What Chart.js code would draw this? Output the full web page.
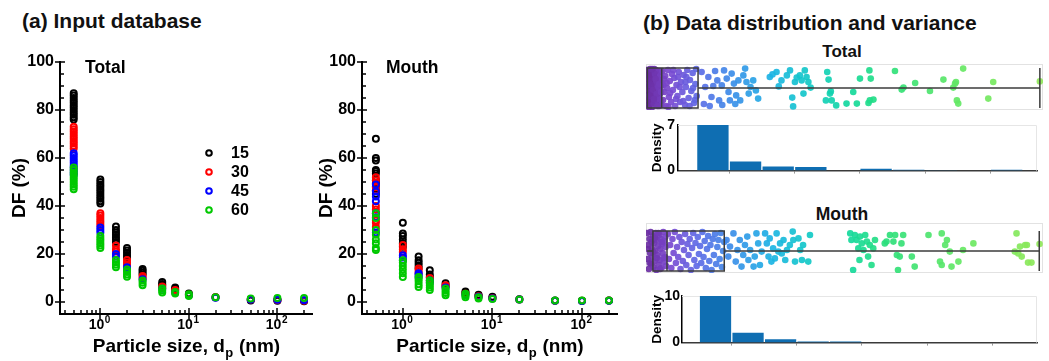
<!DOCTYPE html>
<html><head><meta charset="utf-8">
<script src="https://cdn.jsdelivr.net/npm/chart.js@4.4.1/dist/chart.umd.min.js"></script>
<style>
html,body{margin:0;padding:0;background:#fff;}
body{width:1049px;height:361px;position:relative;overflow:hidden;font-family:"Liberation Sans",Arial,Helvetica,sans-serif;}
canvas{position:absolute;}
.t{position:absolute;font-weight:bold;color:#111;white-space:nowrap;line-height:1;}
.ctr{transform:translateX(-50%);}
</style></head><body>
<div class="t" style="left:22px;top:10px;font-size:21px">(a) Input database</div>
<div class="t" style="left:643px;top:12px;font-size:21px">(b) Data distribution and variance</div>
<div class="t ctr" style="left:842px;top:43px;font-size:17px">Total</div>
<div class="t ctr" style="left:842px;top:206px;font-size:17.5px">Mouth</div>

<canvas id="cTotal" width="318" height="321" style="left:0;top:40px"></canvas>
<canvas id="cMouth" width="325" height="321" style="left:302px;top:40px"></canvas>
<canvas id="sTotal" width="409" height="56" style="left:640px;top:58px"></canvas>
<canvas id="hTotal" width="419" height="70" style="left:630px;top:112px"></canvas>
<canvas id="sMouth" width="409" height="60" style="left:640px;top:217px"></canvas>
<canvas id="hMouth" width="419" height="70" style="left:630px;top:283px"></canvas>

<script>
// ---------------- DATA ----------------
const sizes = [0.5, 1, 1.5, 2, 3, 5, 7, 10, 20, 50, 100, 200];   // particle size, nm
const seriesLabels = ['15', '30', '45', '60'];
const yTickValues = [0, 20, 40, 60, 80, 100];
const xDecades = [0, 1, 2];

// DF (%) values for each particle size — Total
const total15 = [[76,77,78,79,80,81,82,83,84,85,86,87],[41,42,43,44,45,46,47,48,49,50,51],[25,26,27,28,29,30,31.5],[18.5,19.5,20.5,21.5,22.5],[11.5,12.2,13,13.8],[7,7.5,8.3],[5,5.5,6],[3,3.5],[2],[0.6,1],[0.5,0.9],[0.3,0.6]];
const total30 = [[64,65,66,67,68,69,70,71,72,73],[32,33,34,35,36,37],[21,22,23.5],[15.5,16.5,17.5],[10,10.8],[6,6.5],[4.5,5],[3],[2],[1],[0.8],[0.5]];
const total45 = [[53,54,55,56,57,58,59,60,61,62],[29,30,31],[19,20],[13.5,14.5],[9.5],[5.5],[4],[2.8],[1.8],[1],[0.9],[0.7]];
const total60 = [[47,48,49,50,51,52,53,54,55,56],[22.5,23.5,24.5,25.5,26.5,27.5],[14.5,15.5,16.5,17.5],[10.5,11.5,12.5,13.5],[7,8,9],[4,4.8,5.6],[3.5,4.2],[2.5,3.2],[2],[1.5],[1.7],[1.7]];
// DF (%) values for each particle size — Mouth
const mouth15 = [[45,46.5,48,49.5,50.7,53.5,54.5,55,59,60,68],[23,24.5,26,27.5,28.5,33],[14.2,15.3,16.4,17.4,19],[10.4,11.5,13.2],[6.8,7.8],[3.8,4.4],[2.6,3],[1.8,2.2],[1.1],[0.6],[0.5],[0.6]];
const mouth30 = [[31.2,33,34,37,38.5,40,46.5,47.8,50.7,52],[20.8,22,23.7],[12,13,14],[9,10],[6.5,7],[3.4],[2.4],[1.6],[1],[0.5],[0.5],[0.6]];
const mouth45 = [[29,35.3,37,42,44,46,49],[17.4,18.5,19.5],[10.4,11.2,12],[8,9],[6],[3],[2.2],[1.5],[1],[0.5],[0.4],[0.5]];
const mouth60 = [[21.7,22.5,24.5,26,28,30,35,37],[10.4,12,13.5,15,16.5,17.4],[6.2,7.4,8.6,9.6,10.4],[5,6,7,8,9],[2.8,3.8,4.7,5.6],[2,2.7,3.4],[1.5,2],[1.3],[1],[0.6],[0.6],[0.6]];

// Strip plots: [DF value, jitter]
const totalStrip = [
[0.2,0.9],[0.3,-0.35],[0.4,0.45],[0.5,-0.85],[0.6,0.1],[0.7,0.7],[0.8,-0.55],[0.9,0.95],[1.0,-0.1],[1.1,0.5],[1.2,-0.7],[1.3,0.25],[1.4,-0.95],[1.5,0.8],[1.6,-0.35],[1.7,0.05],[1.8,0.6],[1.9,-0.6],[2.0,0.35],[2.1,-0.2],[2.2,0.9],[2.3,-0.8],[2.4,0.15],[2.5,0.55],[2.6,-0.45],[2.7,0.75],[2.8,-0.05],[2.9,-0.9],[3.0,0.4],[3.1,-0.3],[3.2,0.85],[3.3,-0.65],[3.4,0.1],
[0.25,0.2],[0.45,-0.15],[0.65,-0.95],[0.85,0.35],[1.05,0.8],[1.25,-0.35],[1.45,0.55],[1.65,-0.75],[1.85,0.95],[2.05,-0.45],[2.25,0.2],[2.45,-0.6],[2.65,0.45],[2.85,0.85],[3.05,-0.55],[3.25,0.3],[3.45,-0.85],[0.35,-0.65],[0.75,0.55],[1.15,0.15],[1.55,-0.1],[1.95,0.7],[2.35,-0.3],[2.75,0.05],[3.15,0.6],[0.55,0.65],[0.95,-0.4],[1.35,0.95],[1.75,-0.55],[2.15,0.45],[2.55,-0.9],[2.95,0.2],[3.35,-0.2],
[3.6,0.85],[3.8,-0.6],[3.9,0.15],[4.1,-0.2],[4.3,0.6],[4.5,-0.9],[4.7,0.0],[4.9,0.9],[5.1,-0.45],[5.3,0.35],[5.6,-0.7],[5.8,0.7],[6.0,-0.1],[6.3,0.5],[6.5,-0.9],[6.8,0.15],[7.0,-0.4],[7.3,0.8],[7.6,-0.7],[7.8,0.3],[8.1,-0.2],[8.4,0.65],[8.7,-0.85],[8.9,0.05],[9.2,0.9],[9.5,-0.5],[9.8,0.4],[10.1,-0.15],[10.4,0.75],[10.7,-0.75],[11.0,0.2],[11.3,-0.4],[4.0,0.45],[4.6,0.25],[5.4,-0.25],[6.1,0.9],[6.7,-0.55],[7.5,0.05],[8.3,-0.65],[9.0,0.55],[9.7,-0.9],[10.5,0.0],[11.2,0.95],[5.0,-0.95],[7.1,0.55],[8.8,0.3],[10.9,-0.6],
[12.4,0.8],[13.2,0.05],[13.9,0.55],[14.6,-0.45],[15.4,0.85],[15.9,0.38],[16.3,-0.62],[16.9,0.13],[17.4,0.88],[18.0,0.47],[18.4,-0.2],[18.7,-0.62],[19.1,0.72],[19.6,0.22],[20.1,-0.37],[20.6,0.38],[21.0,-0.62],[21.7,0.63],[22.1,0.97],[22.4,0.3],[22.9,-0.28],[23.3,0.05],[23.9,0.38],[24.5,-0.12],[25.0,-0.53],[12.9,-0.8],[14.2,-0.9],[15.0,0.1],[17.0,-0.85],[19.9,-0.8],
[27.6,0.55],[28.2,0.68],[29.1,0.8],[29.6,0.08],[30.2,0.38],[31.4,0.63],[32.1,0.88],[32.6,-0.48],[32.8,-0.92],[33.2,0.3],[33.6,0.52],[34.3,0.63],[34.7,0.38],[35.1,-0.28],[35.4,0.88],[35.8,0.55],[36.2,0.3],[36.7,0.02],
[40.1,-0.62],[40.4,0.8],[40.7,0.42],[41.0,-0.28],[41.2,-0.17],[41.4,-0.62],[42.4,-0.87],[44.7,-0.78],[46.2,-0.2],[47.0,-0.78],[47.7,0.47],[49.6,-0.75],[49.8,0.88],[49.9,-0.62],[50.1,0.47],[50.7,-0.58],
[55.5,0.85],[57.0,-0.08],[57.4,0.02],[60.0,0.25],[63.3,-0.15],[66.3,0.42],[68.5,0.02],[68.9,0.22],[69.1,0.3],[69.3,-0.62],[69.6,-0.78],[70.7,0.97],[76.3,-0.53],[77.4,0.3],[87.8,0.33]
];
const mouthStrip = [
[0.2,0.9],[0.3,-0.4],[0.4,0.3],[0.5,-0.9],[0.6,0.6],[0.7,-0.1],[0.8,0.95],[0.9,-0.65],[1.0,0.15],[1.1,-0.3],[1.2,0.75],[1.3,-0.8],[1.4,0.4],[1.5,-0.5],[1.6,0.0],[1.7,0.9],[1.8,-0.95],[1.9,0.55],[2.0,-0.2],[2.1,0.25],[2.2,-0.7],[2.3,0.8],[2.4,-0.45],[2.5,0.1],[2.6,0.6],[2.7,-0.85],[2.8,0.35],[2.9,-0.1],[3.0,0.95],[3.1,-0.55],[3.2,0.5],[3.3,-0.3],[3.4,0.2],[3.5,-0.75],[0.35,0.1],[0.65,-0.6],[0.95,0.45],[1.25,-0.05],[1.55,0.65],[1.85,-0.35],[2.15,0.9],[2.45,-0.9],[2.75,0.45],[3.05,-0.35],[3.35,0.7],
[3.8,0.85],[4.0,-0.4],[4.2,0.3],[4.4,-0.85],[4.6,0.6],[4.8,-0.1],[5.0,0.95],[5.2,-0.6],[5.4,0.2],[5.6,-0.3],[5.8,0.7],[6.0,-0.9],[6.2,0.45],[6.4,-0.5],[6.6,0.05],[6.8,0.85],[7.0,-0.7],[7.2,0.35],[7.4,-0.2],[7.6,0.6],[7.8,-0.95],[8.0,0.15],[8.2,0.9],[8.4,-0.45],[8.6,0.4],[8.8,-0.75],[9.0,0.7],[9.2,-0.15],[9.4,0.25],[9.6,-0.6],[9.8,0.95],[10.0,-0.3],[10.2,0.5],[10.4,-0.85],[10.6,0.1],[10.8,0.75],[11.0,-0.5],[11.2,0.3],[11.4,-0.95],[11.6,0.6],[11.8,-0.2],[12.0,0.85],[12.2,-0.65],[12.4,0.2],[12.6,0.55],[12.8,-0.4],[13.0,0.9],[13.2,-0.8],[13.4,0.0],[13.6,0.45],
[14.0,0.55],[14.3,-0.28],[14.6,0.22],[15.2,0.88],[15.6,-0.53],[15.9,0.05],[16.3,0.55],[16.6,-0.78],[16.9,-0.2],[17.2,0.3],[17.6,0.72],[17.8,-0.45],[18.1,0.05],[18.7,-0.78],[18.9,-0.28],[19.2,0.88],[19.5,0.38],[19.8,-0.7],[20.1,-0.03],[20.7,0.88],[21.0,0.38],[21.3,-0.28],[21.5,0.63],[21.8,-0.53],[22.1,0.13],[22.4,-0.37],[22.7,0.88],[23.0,-0.03],[23.3,0.38],[23.6,-0.12],[23.9,0.55],[24.2,-0.45],[24.5,0.05],[25.0,0.3],[25.5,0.97],[25.6,0.55],[25.9,-0.53],[26.5,0.63],[26.8,0.05],[27.1,-0.45],[27.3,0.3],[28.2,-0.53],[28.5,0.8],
[35.5,0.88],[35.7,0.55],[36.0,-0.95],[36.3,0.8],[36.6,0.55],[36.9,0.13],[37.1,-0.45],[37.2,0.72],[37.5,0.38],[37.8,0.05],[38.1,0.8],[38.4,0.47],[38.6,-0.28],[38.9,0.3],[39.2,-0.7],[39.5,0.13],[39.8,0.55],
[41.5,0.38],[41.8,0.47],[42.4,0.8],[43.0,0.47],[43.3,0.8],[43.6,-0.2],[43.8,-0.95],[44.1,-0.28],[44.4,0.38],[44.7,0.8],[46.2,-0.28],[46.7,-0.78],
[49.1,0.8],[51.1,-0.53],[51.4,-0.7],[51.4,0.88],[52.0,0.3],[52.3,0.55],[52.8,-0.03],[53.1,-0.78],[54.3,-0.53],[55.1,0.05],[56.9,0.38],
[64.1,-0.03],[64.4,0.88],[64.7,-0.12],[65.0,0.22],[65.3,-0.28],[65.9,0.3],[66.2,0.3],[66.4,-0.58],[67.0,-0.58],[68.4,0.35]
];
// box statistics: [min, q1, median, q3, max]
const totalBoxStats = [0.2, 0.3, 3.5, 11.6, 87.8];
const mouthBoxStats = [0.2, 1.2, 3.65, 13.6, 68.35];

// Histograms (density per bin)
const histBins = [0.5, 1.5, 2.5, 3.5, 4.5, 5.5, 6.5, 7.5, 8.5, 9.5];
const histTickValues = [0, 2, 4, 6, 8, 10];
const totalDensity = [7, 1.38, 0.64, 0.56, 0, 0.28, 0.14, 0.05, 0, 0.14];
const mouthDensity = [10, 2.1, 0.72, 0.26, 0.26, 0, 0, 0, 0, 0];

// ---------------- STYLE ----------------
const FONT = '"Liberation Sans", Arial, Helvetica, sans-serif';
const seriesColors = ['#000000', '#ff0000', '#0000ff', '#00c800'];
const cmapStops = [[0,[106,44,158]],[0.06,[122,72,208]],[0.13,[95,106,230]],[0.22,[58,142,232]],[0.32,[28,180,228]],[0.42,[18,203,196]],[0.52,[20,217,156]],[0.62,[46,224,122]],[0.8,[102,232,100]],[1,[144,232,90]]];
function cmap(t) {
  t = Math.max(0, Math.min(1, t));
  for (let i = 1; i < cmapStops.length; i++) {
    const [t1, c1] = cmapStops[i], [t0, c0] = cmapStops[i - 1];
    if (t <= t1) {
      const f = (t - t0) / (t1 - t0);
      const c = c0.map((v, k) => Math.round(v + (c1[k] - v) * f));
      return `rgba(${c[0]},${c[1]},${c[2]},0.92)`;
    }
  }
  return 'rgb(144,232,90)';
}

// ---------------- PLUGINS ----------------
const scatterDecor = {
  id: 'decor',
  afterDraw(chart, args, o) {
    const {ctx, chartArea: a} = chart;
    const xs = chart.scales.x, ys = chart.scales.y;
    ctx.save();
    ctx.strokeStyle = '#000'; ctx.lineWidth = 1.5; ctx.beginPath();
    for (let v = 0; v <= ys.max; v += 5) {
      const py = Math.round(ys.getPixelForValue(v));
      const major = v % 20 === 0;
      ctx.moveTo(a.left - (major ? 5 : 0), py);
      ctx.lineTo(a.left + (major ? 5 : 4), py);
    }
    for (let e = -1; e <= 2; e++) for (let k = 1; k <= 9; k++) {
      const v = k * Math.pow(10, e);
      if (v < xs.min || v > xs.max) continue;
      const px = Math.round(xs.getPixelForValue(v));
      const major = k === 1;
      ctx.moveTo(px, a.bottom + (major ? 5 : 0));
      ctx.lineTo(px, a.bottom - (major ? 6 : 4));
    }
    ctx.stroke();
    ctx.fillStyle = '#000'; ctx.textBaseline = 'alphabetic'; ctx.textAlign = 'left';
    xDecades.forEach(e => {
      const px = xs.getPixelForValue(Math.pow(10, e));
      ctx.font = `bold 14px ${FONT}`; const w1 = ctx.measureText('10').width;
      ctx.font = `bold 10px ${FONT}`; const w2 = ctx.measureText(String(e)).width;
      const x0 = px - (w1 + w2) / 2 - 1;
      ctx.font = `bold 14px ${FONT}`; ctx.fillText('10', x0, a.bottom + 14.5);
      ctx.font = `bold 10px ${FONT}`; ctx.fillText(String(e), x0 + w1 + 0.5, a.bottom + 8.7);
    });
    const m1 = 'Particle size, d', sb = 'p', m2 = ' (nm)';
    ctx.font = `bold 19px ${FONT}`; const w1 = ctx.measureText(m1).width, w3 = ctx.measureText(m2).width;
    ctx.font = `bold 13px ${FONT}`; const w2 = ctx.measureText(sb).width;
    const x0 = (a.left + a.right) / 2 - (w1 + w2 + w3) / 2, by = a.bottom + 38;
    ctx.font = `bold 19px ${FONT}`; ctx.fillText(m1, x0, by);
    ctx.font = `bold 13px ${FONT}`; ctx.fillText(sb, x0 + w1 + 0.5, by + 5);
    ctx.font = `bold 19px ${FONT}`; ctx.fillText(m2, x0 + w1 + w2 + 1, by);
    ctx.font = `bold 17.5px ${FONT}`; ctx.fillText(o.label, a.left + o.labelDx, a.top + 10.7);
    if (o.legend) {
      chart.data.datasets.forEach((d, i) => {
        const ly = a.top + 91 + 19 * i;
        ctx.beginPath(); ctx.strokeStyle = d.borderColor; ctx.lineWidth = 2;
        ctx.arc(a.left + 149, ly, 2.8, 0, Math.PI * 2); ctx.stroke();
        ctx.fillStyle = '#000'; ctx.font = `bold 16px ${FONT}`; ctx.textBaseline = 'middle';
        ctx.fillText(d.label, a.left + 171, ly + 1);
      });
    }
    ctx.restore();
  }
};

const stripDecor = {
  id: 'strip',
  beforeDatasetsDraw(chart) {
    const {ctx, chartArea: a} = chart;
    ctx.save(); ctx.strokeStyle = '#e2e2e2'; ctx.lineWidth = 1;
    ctx.strokeRect(a.left + 0.5, a.top + 0.5, a.right - a.left - 1, a.bottom - a.top - 1);
    ctx.restore();
  },
  afterDatasetsDraw(chart, args, o) {
    const {ctx} = chart; const xs = chart.scales.x, ys = chart.scales.y;
    const s = o.stats; const X = v => xs.getPixelForValue(v), Y = v => ys.getPixelForValue(v);
    ctx.save(); ctx.strokeStyle = '#3c3c3c'; ctx.lineWidth = 1.5;
    ctx.strokeRect(X(s[1]), Y(1), X(s[3]) - X(s[1]), Y(-1) - Y(1));
    ctx.beginPath();
    ctx.moveTo(X(s[2]), Y(1)); ctx.lineTo(X(s[2]), Y(-1));
    ctx.moveTo(X(s[3]), Y(0)); ctx.lineTo(X(s[4]), Y(0));
    ctx.moveTo(X(s[4]), Y(1)); ctx.lineTo(X(s[4]), Y(-1));
    ctx.moveTo(X(s[0]), Y(0)); ctx.lineTo(X(s[1]), Y(0));
    ctx.stroke();
    ctx.restore();
  }
};

const histFrame = {
  id: 'hframe',
  beforeDatasetsDraw(chart) {
    const {ctx, chartArea: a} = chart;
    ctx.save(); ctx.strokeStyle = '#e6e6e6'; ctx.lineWidth = 1; ctx.beginPath();
    ctx.moveTo(a.left, a.top + 0.5); ctx.lineTo(a.right - 0.5, a.top + 0.5); ctx.lineTo(a.right - 0.5, a.bottom);
    ctx.stroke(); ctx.restore();
  }
};

// ---------------- CHARTS ----------------
function scatterSets(groups) {
  return groups.map((g, s) => ({
    label: seriesLabels[s],
    data: g.flatMap((vals, i) => vals.map(v => ({x: sizes[i], y: v}))),
    borderColor: seriesColors[s], backgroundColor: 'rgba(0,0,0,0)',
    pointRadius: 3, pointBorderWidth: 2, pointStyle: 'circle', order: 3 - s
  }));
}
function scatterChart(id, groups, pad, titlePad, label, labelDx, legend) {
  return new Chart(document.getElementById(id), {
    type: 'scatter',
    data: {datasets: scatterSets(groups)},
    plugins: [scatterDecor],
    options: {
      responsive: false, animation: false, devicePixelRatio: 1, events: [],
      layout: {padding: pad},
      plugins: {legend: {display: false}, tooltip: {enabled: false}, decor: {label, labelDx, legend}},
      scales: {
        x: {type: 'logarithmic', min: 0.35, max: 246, grid: {display: false, drawTicks: false},
            border: {display: true, color: '#000', width: 2}, ticks: {display: false},
            afterFit: s => { s.height = 47; }},
        y: {type: 'linear', min: -5, max: 100, grid: {display: false, drawTicks: false},
            border: {display: true, color: '#000', width: 2},
            afterBuildTicks: s => { s.ticks = yTickValues.map(v => ({value: v})); },
            ticks: {color: '#000', padding: 6, font: {family: FONT, size: 16, weight: 'bold'}},
            title: {display: true, text: 'DF (%)', color: '#000', padding: {top: titlePad, bottom: 0}, font: {family: FONT, size: 19, weight: 'bold'}},
            afterFit: s => { s.width = 60; }}
      }
    }
  });
}
scatterChart('cTotal', [total15, total30, total45, total60], {top: 22, right: 5, left: 0, bottom: 0}, 8.6, 'Total', 25, true);
scatterChart('cMouth', [mouth15, mouth30, mouth45, mouth60], {top: 22, right: 10, left: 0, bottom: 0}, 13.6, 'Mouth', 24, false);

function stripChart(id, pts, stats, xmax, ymin, ymax, pad) {
  return new Chart(document.getElementById(id), {
    type: 'scatter',
    data: {datasets: [{
      data: pts.map(p => ({x: p[0], y: p[1]})),
      backgroundColor: c => cmap(c.raw ? c.raw.x / stats[4] : 0),
      borderWidth: 0, pointRadius: 3.3, pointBorderWidth: 0
    }]},
    plugins: [stripDecor],
    options: {
      responsive: false, animation: false, devicePixelRatio: 1, events: [],
      layout: {padding: pad},
      plugins: {legend: {display: false}, tooltip: {enabled: false}, strip: {stats}},
      scales: {x: {display: false, min: 0, max: xmax}, y: {display: false, min: ymin, max: ymax}}
    }
  });
}
stripChart('sTotal', totalStrip, totalBoxStats, 88.5, -1.1, 1.2, {left: 6, right: 6, top: 6, bottom: 4});
stripChart('sMouth', mouthStrip, mouthBoxStats, 69, -1.1, 1.4, {left: 6, right: 6, top: 6, bottom: 4});

function histChart(id, dens, xmin, xmax, ymax, yWidth, xHeight, labPad) {
  return new Chart(document.getElementById(id), {
    type: 'bar',
    data: {datasets: [{data: histBins.map((b, i) => ({x: b, y: dens[i]})), backgroundColor: '#0f6eb2', borderWidth: 0,
      categoryPercentage: 1, barPercentage: 0.96}]},
    plugins: [histFrame],
    options: {
      responsive: false, animation: false, devicePixelRatio: 1, events: [],
      layout: {padding: {top: 13, right: 12, left: 0, bottom: 0}},
      plugins: {legend: {display: false}, tooltip: {enabled: false}},
      scales: {
        x: {type: 'linear', min: xmin, max: xmax, offset: false,
            afterBuildTicks: s => { s.ticks = histTickValues.map(v => ({value: v})); },
            ticks: {display: false},
            grid: {display: true, drawOnChartArea: false, drawTicks: true, tickLength: 3, color: '#9a9a9a'},
            border: {display: true, color: '#3a3a3a', width: 1.5},
            afterFit: s => { s.height = xHeight; }},
        y: {min: 0, max: ymax,
            afterBuildTicks: s => { s.ticks = [0, ymax].map(v => ({value: v})); },
            grid: {display: false, drawTicks: false},
            border: {display: true, color: '#000', width: 1.5},
            ticks: {color: '#000', padding: labPad, font: {family: FONT, size: 14, weight: 'bold'}},
            title: {display: true, text: 'Density', color: '#000', padding: {top: 19, bottom: 0}, font: {family: FONT, size: 13.5, weight: 'bold'}},
            afterFit: s => { s.width = yWidth; }}
      }
    }
  });
}
histChart('hTotal', totalDensity, -0.57, 10.43, 7, 48, 5, 3);
histChart('hMouth', mouthDensity, -0.53, 10.38, 10, 52, 6, 2);
</script>
</body></html>
